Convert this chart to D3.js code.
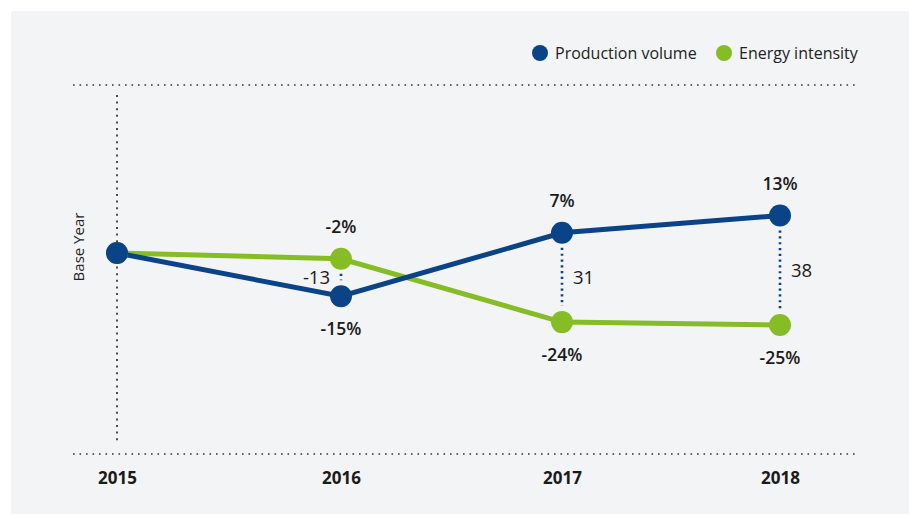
<!DOCTYPE html>
<html><head><meta charset="utf-8">
<script src="https://cdn.jsdelivr.net/npm/d3@7"></script>
<style>
html,body{margin:0;padding:0;background:#fff;}
svg{display:block;font-family:"Open Sans",sans-serif;}
</style></head>
<body>
<script>
const years = [2015, 2016, 2017, 2018];
const yearLabels = ["2015", "2016", "2017", "2018"];
const production = [0, -15, 7, 13];
const energy = [0, -2, -24, -25];
const productionLabels = [null, "-15%", "7%", "13%"];
const energyLabels = [null, "-2%", "-24%", "-25%"];
const gapLabels = [null, "-13", "31", "38"];
const seriesNames = ["Production volume", "Energy intensity"];
const colors = ["#0a4386", "#86bc25"];

const W = 909, H = 514;
const svg = d3.select("body").append("svg").attr("width", W).attr("height", H);
svg.append("rect").attr("x", 11).attr("y", 11).attr("width", W - 11).attr("height", H - 11).attr("fill", "#f3f4f6");

const xs = d3.scaleLinear().domain([2015, 2016, 2017, 2018]).range([117, 341, 562, 780]);
const y = d3.scaleLinear().domain([-40, 40]).range([368.2, 137.8]);

// gridlines
const grid = svg.append("g");
[85, 454].forEach(gy => {
  grid.append("line").attr("x1", 73).attr("x2", 859).attr("y1", gy).attr("y2", gy)
    .attr("stroke", "#333").attr("stroke-width", 1.6).attr("stroke-dasharray", "1.6,4.9");
});
grid.append("line").attr("x1", xs(2015)).attr("x2", xs(2015)).attr("y1", 95).attr("y2", 441)
  .attr("stroke", "#222").attr("stroke-width", 1.6).attr("stroke-dasharray", "2,4.6");

// Base Year label
svg.append("text").attr("transform", `translate(84,${y(0) - 6}) rotate(-90)`)
  .attr("text-anchor", "middle").attr("font-size", 15).attr("fill", "#222").text("Base Year");

// x axis labels
const xAxis = d3.axisBottom(xs).tickValues(years).tickFormat((d, i) => yearLabels[i]).tickSize(0).tickPadding(0);
const ax = svg.append("g").attr("transform", "translate(0,472)").call(xAxis);
ax.select(".domain").remove();
ax.selectAll("text").attr("font-size", 17).attr("font-weight", 700).attr("fill", "#1a1a1a")
  .attr("font-family", "'Open Sans',sans-serif").attr("dy", "0.71em");

// connectors
years.forEach((yr, i) => {
  if (i === 0) return;
  const a = y(production[i]), b = y(energy[i]);
  const top = Math.min(a, b), bot = Math.max(a, b);
  svg.append("line").attr("x1", xs(yr)).attr("x2", xs(yr)).attr("y1", top + 15).attr("y2", bot - 16)
    .attr("stroke", colors[0]).attr("stroke-width", 2.6).attr("stroke-dasharray", "2.2,3.6");
  const mid = (a + b) / 2;
  const t = svg.append("text").attr("y", mid).attr("dy", "0.35em").attr("font-size", 18.5)
    .attr("font-weight", 500).attr("fill", "#1a1a1a").text(gapLabels[i]);
  if (i === 1) t.attr("x", xs(yr) - 11).attr("text-anchor", "end");
  else t.attr("x", xs(yr) + 11).attr("text-anchor", "start");
});

// lines
const line = vals => d3.line().x((d, i) => xs(years[i])).y(d => y(d))(vals);
[energy, production].forEach((vals, k) => {
  const c = k === 0 ? colors[1] : colors[0];
  svg.append("path").attr("d", line(vals)).attr("fill", "none").attr("stroke", c).attr("stroke-width", 5);
});
[energy, production].forEach((vals, k) => {
  const c = k === 0 ? colors[1] : colors[0];
  svg.selectAll(null).data(vals).enter().append("circle")
    .attr("cx", (d, i) => xs(years[i])).attr("cy", d => y(d)).attr("r", 11).attr("fill", c);
});

// value labels
years.forEach((yr, i) => {
  if (i === 0) return;
  const pUp = production[i] > energy[i];
  const pY = y(production[i]) + (pUp ? -32 : 33);
  const eY = y(energy[i]) + (pUp ? 33 : -32);
  svg.append("text").attr("x", xs(yr)).attr("y", pY).attr("dy", "0.35em").attr("text-anchor", "middle")
    .attr("font-size", 17.5).attr("font-weight", 600).attr("fill", "#1a1a1a").text(productionLabels[i]);
  svg.append("text").attr("x", xs(yr)).attr("y", eY).attr("dy", "0.35em").attr("text-anchor", "middle")
    .attr("font-size", 17.5).attr("font-weight", 600).attr("fill", "#1a1a1a").text(energyLabels[i]);
});

// legend
const lg = svg.append("g");
const lx = [540, 724];
seriesNames.forEach((n, i) => {
  lg.append("circle").attr("cx", lx[i]).attr("cy", 53).attr("r", 8).attr("fill", colors[i]);
  lg.append("text").attr("x", lx[i] + 15).attr("y", 53).attr("dy", "0.35em").attr("font-size", 16)
    .attr("fill", "#222").text(n);
});
</script>
</body></html>
